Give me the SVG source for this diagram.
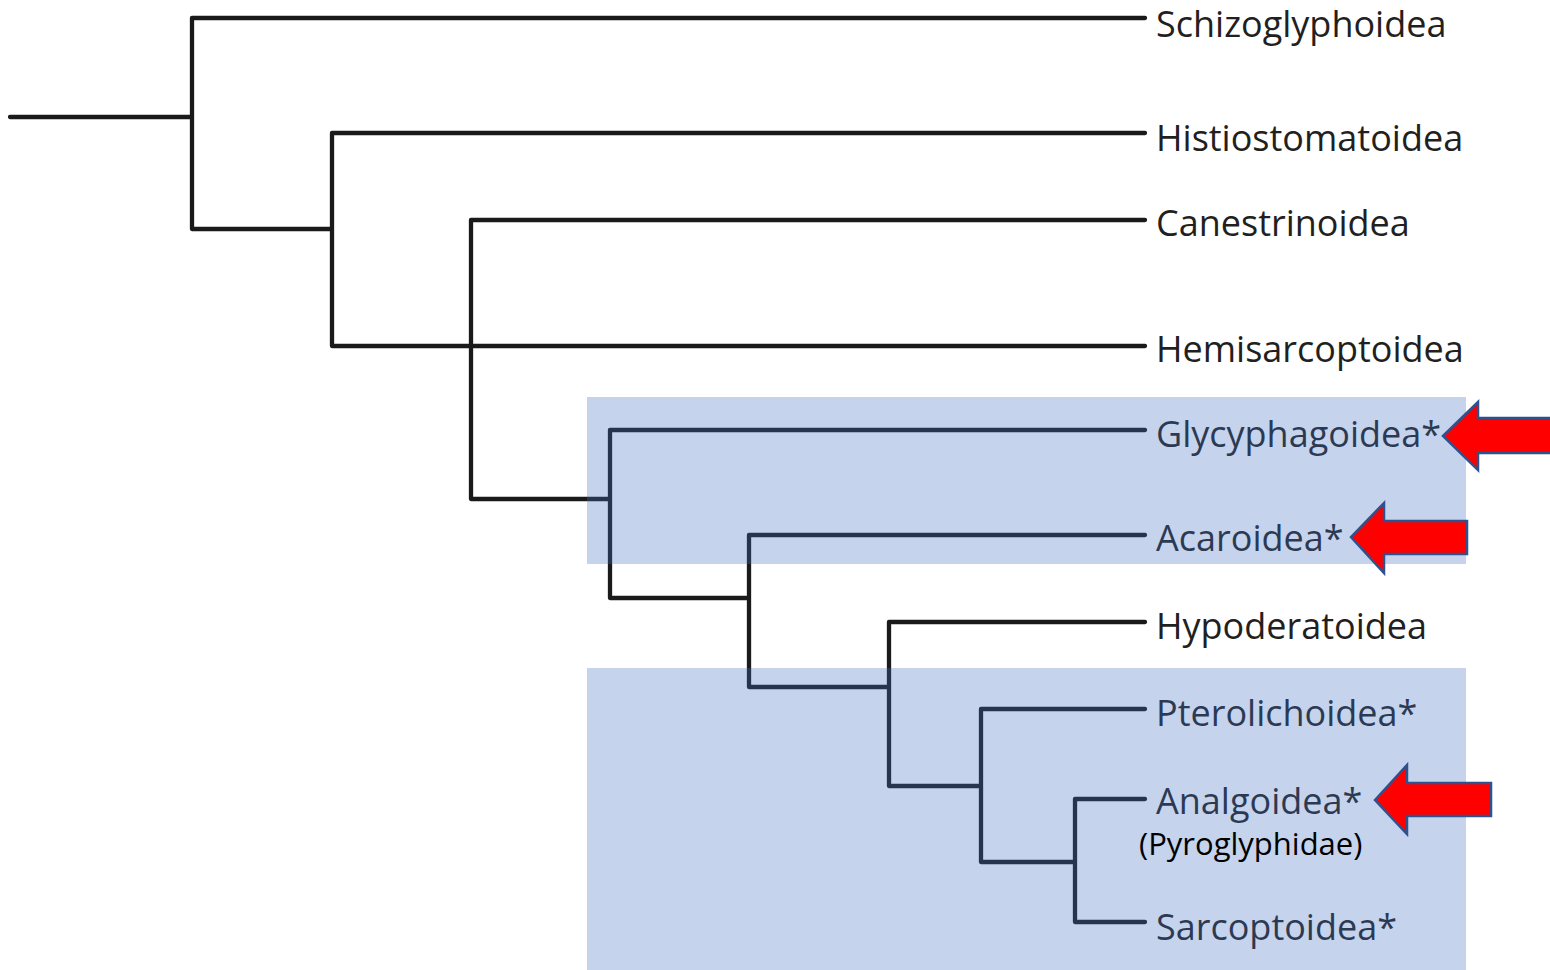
<svg xmlns="http://www.w3.org/2000/svg" width="1550" height="970" viewBox="0 0 1550 970">
<style>
.br{stroke:#1a1a1a;stroke-width:4.3;fill:none;stroke-linecap:round;stroke-linejoin:round}
.lb{font-family:"Open Sans","Noto Sans",sans-serif;font-size:36px;fill:#231f20}
.ov{fill:#4472C4;fill-opacity:0.31}
.ar{fill:#FF0000;stroke:#2F528F;stroke-width:2.5}
.sub{font-family:"Open Sans","Noto Sans",sans-serif;font-size:31px;fill:#000}
</style>
<rect width="1550" height="970" fill="#fff"/>
<g id="connectors">
<path class="br" d="M10,117 H192 M192,18 V229 M192,18 H1145 M192,229 H332 M332,133 V346 M332,133 H1145 M332,346 H1145 M471,220 V499 M471,220 H1145 M471,499 H610 M610,430 V598 M610,430 H1145 M610,598 H749 M749,535 V687 M749,535 H1145 M749,687 H889 M889,622 V786 M889,622 H1145 M889,786 H981 M981,709 V862 M981,709 H1145 M981,862 H1075 M1075,799 V922 M1075,799 H1145 M1075,922 H1145"/>
</g>
<g id="n-schizoglyphoidea"><text class="lb" x="1156" y="37">Schizoglyphoidea</text></g>
<g id="n-histiostomatoidea"><text class="lb" x="1156" y="151">Histiostomatoidea</text></g>
<g id="n-canestrinoidea"><text class="lb" x="1156" y="236">Canestrinoidea</text></g>
<g id="n-hemisarcoptoidea"><text class="lb" x="1156" y="362">Hemisarcoptoidea</text></g>
<g id="n-glycyphagoidea"><text class="lb" x="1156" y="447">Glycyphagoidea*</text></g>
<g id="n-acaroidea"><text class="lb" x="1156" y="551">Acaroidea*</text></g>
<g id="n-hypoderatoidea"><text class="lb" x="1156" y="639">Hypoderatoidea</text></g>
<g id="n-pterolichoidea"><text class="lb" x="1156" y="726">Pterolichoidea*</text></g>
<g id="n-analgoidea"><text class="lb" x="1156" y="814">Analgoidea*</text></g>
<g id="n-sarcoptoidea"><text class="lb" x="1156" y="940">Sarcoptoidea*</text></g>
<g id="highlights">
<rect class="ov" x="587" y="397" width="879" height="167"/>
<rect class="ov" x="587" y="668" width="879" height="302"/>
</g>
<g id="n-pyroglyphidae"><text class="sub" x="1139" y="855">(Pyroglyphidae)</text></g>
<g id="arrows">
<polygon class="ar" points="1443,436 1478,402 1478,418 1560,418 1560,453 1478,453 1478,470"/>
<polygon class="ar" points="1351,537 1384,503 1384,521 1467,521 1467,554 1384,554 1384,573"/>
<polygon class="ar" points="1375,800 1407,765 1407,783 1491,783 1491,816 1407,816 1407,834"/>
</g>
</svg>
